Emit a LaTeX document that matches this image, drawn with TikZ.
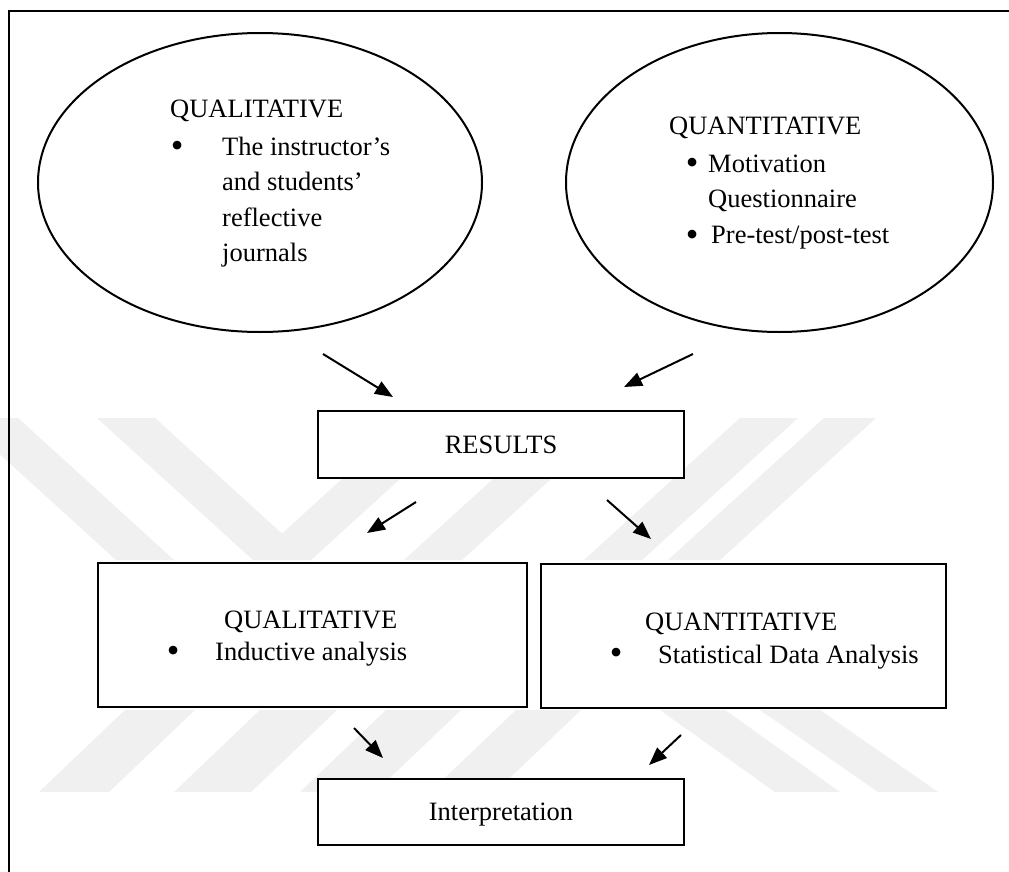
\documentclass[tikz,border=0pt]{standalone}
\usepackage{fontspec}
\setmainfont{Liberation Serif}
\usetikzlibrary{shapes.geometric,arrows.meta}
\begin{document}
\begin{tikzpicture}[x=1pt,y=-1pt,
  txt/.style={inner sep=0pt,anchor=base west,font=\fontsize{26.5pt}{36pt}\selectfont},
  bul/.style={inner sep=0pt,anchor=base west,font=\fontsize{36pt}{36pt}\selectfont},
  ctxt/.style={font=\fontsize{26.5pt}{36pt}\selectfont},
  oval/.style={ellipse,draw,line width=2pt,inner sep=0pt},
  boxnode/.style={rectangle,draw,line width=2.6pt,fill=white,inner sep=0pt},
  arr/.style={line width=2pt,-{Triangle[length=18pt,width=14pt]}},
  wm/.style={fill=black!6,draw=none}]
\useasboundingbox (0,0) rectangle (1009,872);
\fill[white] (0,0) rectangle (1009,872);
% watermark (faint background stripes)
\path[wm] (-40,418) -- (18,418) -- (174,560) -- (116,560) -- cycle;
\path[wm] (97,418) -- (155,418) -- (311,560) -- (253,560) -- cycle;
\path[wm] (409,418) -- (467,418) -- (311,560) -- (253,560) -- cycle;
\path[wm] (560,418) -- (618,418) -- (462,560) -- (404,560) -- cycle;
\path[wm] (740,418) -- (798,418) -- (642,560) -- (584,560) -- cycle;
\path[wm] (824,418) -- (876,418) -- (720,560) -- (668,560) -- cycle;
\path[wm] (125,710) -- (195,710) -- (109,792) -- (39,792) -- cycle;
\path[wm] (260,710) -- (337,710) -- (251,792) -- (174,792) -- cycle;
\path[wm] (386,710) -- (461,710) -- (375,792) -- (300,792) -- cycle;
\path[wm] (516,710) -- (581,710) -- (495,792) -- (430,792) -- cycle;
\path[wm] (660,710) -- (725,710) -- (840,792) -- (775,792) -- cycle;
\path[wm] (760,710) -- (820,710) -- (938,792) -- (878,792) -- cycle;
% frame
\draw[line width=2pt] (1009,11) -- (9,11) -- (9,872);
% ellipses
\node[oval,minimum width=444pt,minimum height=299pt] (e1) at (260,182.5) {};
\node[oval,minimum width=427pt,minimum height=299pt] (e2) at (779.5,182.5) {};
\node[txt] (e1t) at (170,118) {QUALITATIVE};
\node[bul] (e1b) at (170.7,157.4) {\textbullet};
\node[txt] (e1l1) at (222,155) {The instructor’s};
\node[txt] (e1l2) at (222,190) {and students’};
\node[txt] (e1l3) at (222,226) {reflective};
\node[txt] (e1l4) at (222,261) {journals};
\node[txt] (e2t) at (669,135) {QUANTITATIVE};
\node[bul] (e2b1) at (685.7,174.4) {\textbullet};
\node[txt] (e2l1) at (708,172) {Motivation};
\node[txt] (e2l2) at (708,207) {Questionnaire};
\node[bul] (e2b2) at (685.7,246.4) {\textbullet};
\node[txt] (e2l3) at (711,243) {Pre-test/post-test};
% results
\node[boxnode,minimum width=366pt,minimum height=67pt,ctxt] (res) at (501,444.5) {RESULTS};
% lower boxes
\node[boxnode,minimum width=429pt,minimum height=144pt] (b1) at (312.5,635) {};
\node[boxnode,minimum width=405pt,minimum height=144pt] (b2) at (743.5,636) {};
\node[txt] (b1t) at (224,628) {QUALITATIVE};
\node[bul] (b1b) at (166.7,662.4) {\textbullet};
\node[txt] (b1l) at (215,660) {Inductive analysis};
\node[txt] (b2t) at (645,630) {QUANTITATIVE};
\node[bul] (b2b) at (609.7,664.4) {\textbullet};
\node[txt] (b2l) at (658,663) {Statistical Data Analysis};
% interpretation
\node[boxnode,minimum width=366pt,minimum height=66pt,ctxt,text height=17.5pt,text depth=0pt] (interp) at (501,812) {Interpretation};
% arrow end points
\coordinate (a1s) at (323,354); \coordinate (a1e) at (393,397);
\coordinate (a2s) at (693,354); \coordinate (a2e) at (624,387);
\coordinate (a3s) at (416,502); \coordinate (a3e) at (367,533);
\coordinate (a4s) at (607,500); \coordinate (a4e) at (651,539);
\coordinate (a5s) at (354,728); \coordinate (a5e) at (383,758);
\coordinate (a6s) at (681,735); \coordinate (a6e) at (649,765);
\draw[arr] (a1s) -- (a1e);
\draw[arr] (a2s) -- (a2e);
\draw[arr] (a3s) -- (a3e);
\draw[arr] (a4s) -- (a4e);
\draw[arr] (a5s) -- (a5e);
\draw[arr] (a6s) -- (a6e);
\end{tikzpicture}
\end{document}
